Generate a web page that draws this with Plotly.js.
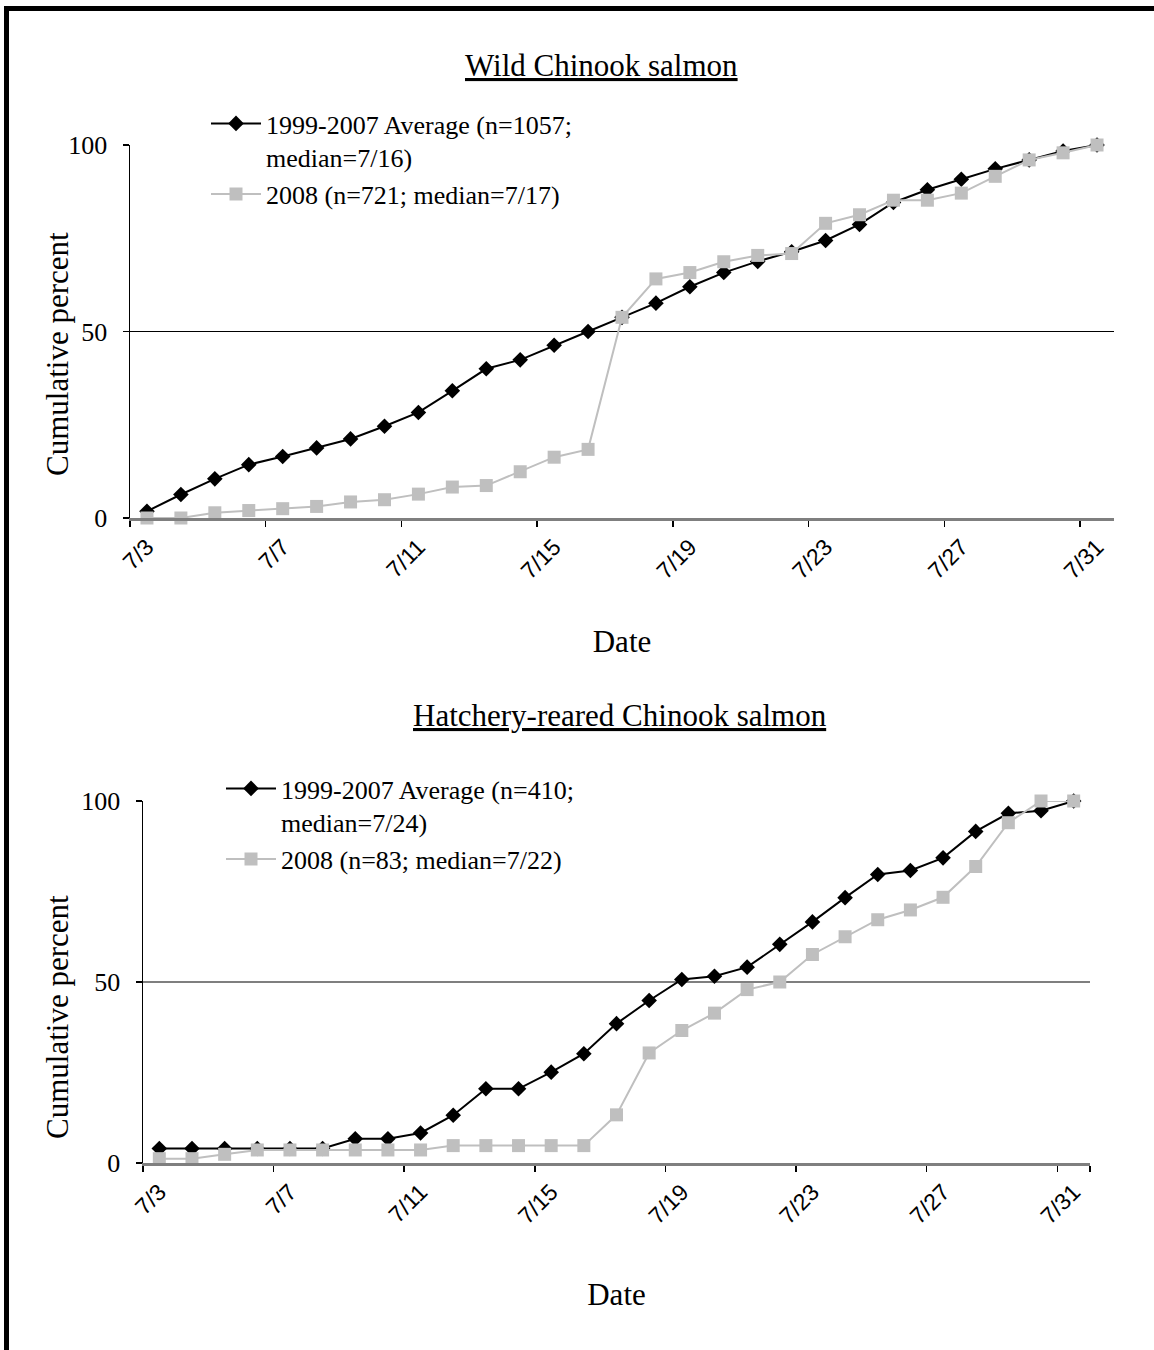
<!DOCTYPE html>
<html>
<head>
<meta charset="utf-8">
<script src="https://cdn.plot.ly/plotly-3.0.1.min.js"></script>
<style>
  html, body { margin: 0; padding: 0; background: #fff; }
  #wrap { position: relative; width: 1154px; height: 1350px; overflow: hidden; }
  #chart { position: absolute; left: 0; top: 0; width: 1154px; height: 1350px; }
  #frame { position: absolute; left: 4px; top: 6px; width: 1200px; height: 1400px;
           border-top: 5px solid #000; border-left: 5px solid #000; pointer-events: none; box-sizing: border-box; }
</style>
</head>
<body>
<div id="wrap">
  <div id="chart"></div>
  <div id="frame"></div>
</div>
<script>
// ---- data ----
const dates = ['7/3','7/4','7/5','7/6','7/7','7/8','7/9','7/10','7/11','7/12','7/13','7/14','7/15','7/16','7/17',
               '7/18','7/19','7/20','7/21','7/22','7/23','7/24','7/25','7/26','7/27','7/28','7/29','7/30','7/31'];
const tickLabels = ['7/3','7/7','7/11','7/15','7/19','7/23','7/27','7/31'];
const yTicks = [0, 50, 100];

const wildAvg  = [1.8, 6.3, 10.5, 14.3, 16.5, 18.8, 21.2, 24.6, 28.3, 34.1, 40.0, 42.4, 46.3, 50.0, 53.8,
                  57.6, 62.0, 65.8, 68.8, 71.4, 74.4, 78.7, 84.6, 88.0, 90.8, 93.6, 96.0, 98.4, 100];
const wild2008 = [0, 0, 1.4, 2.0, 2.5, 3.1, 4.3, 4.9, 6.4, 8.3, 8.7, 12.4, 16.3, 18.4, 53.8,
                  64.1, 65.8, 68.7, 70.4, 70.9, 79.0, 81.3, 85.2, 85.2, 87.1, 91.6, 96.0, 97.9, 100];
const hatchAvg  = [4.0, 4.0, 4.0, 4.0, 4.0, 4.0, 6.7, 6.7, 8.3, 13.2, 20.5, 20.5, 25.1, 30.2, 38.5,
                   44.9, 50.7, 51.6, 54.1, 60.4, 66.6, 73.3, 79.7, 80.8, 84.3, 91.6, 96.6, 97.3, 100];
const hatch2008 = [1.2, 1.2, 2.4, 3.6, 3.6, 3.6, 3.6, 3.6, 3.6, 4.8, 4.8, 4.8, 4.8, 4.8, 13.3,
                   30.4, 36.6, 41.4, 47.9, 50.0, 57.6, 62.5, 67.2, 69.9, 73.4, 81.9, 94.0, 100, 100];

const wildNames  = ['1999-2007 Average (n=1057;<br>median=7/16)', '2008 (n=721; median=7/17)'];
const hatchNames = ['1999-2007 Average (n=410;<br>median=7/24)', '2008 (n=83; median=7/22)'];
const plotTitles = ['Wild Chinook salmon', 'Hatchery-reared Chinook salmon'];
const xTitle = 'Date';
const yTitle = 'Cumulative percent';

// ---- styles ----
const SERIF = 'Liberation Serif, Times New Roman, serif';
const SANS = 'Liberation Sans, Arial, sans-serif';
const BLACK = '#000000';
const GRAY = '#BFBFBF';

function avgTrace(y, name, xa, ya, lg) {
  return { x: dates, y: y, name: name, xaxis: xa, yaxis: ya, legend: lg, type: 'scatter',
    mode: 'lines+markers', cliponaxis: false,
    line: { color: BLACK, width: 2 },
    marker: { symbol: 'diamond', size: 12, color: BLACK } };
}
function yrTrace(y, name, xa, ya, lg) {
  return { x: dates, y: y, name: name, xaxis: xa, yaxis: ya, legend: lg, type: 'scatter',
    mode: 'lines+markers', cliponaxis: false,
    line: { color: GRAY, width: 2 },
    marker: { symbol: 'square', size: 13, color: GRAY } };
}

const traces = [
  avgTrace(wildAvg, wildNames[0], 'x', 'y', 'legend'),
  yrTrace(wild2008, wildNames[1], 'x', 'y', 'legend'),
  avgTrace(hatchAvg, hatchNames[0], 'x2', 'y2', 'legend2'),
  yrTrace(hatch2008, hatchNames[1], 'x2', 'y2', 'legend2')
];

const W = 1154, H = 1350;
function px(x) { return x / W; }
function py(y) { return 1 - y / H; }

function xAxis(d0, d1, anchor, standoff) {
  return { domain: [px(d0), px(d1)], anchor: anchor, type: 'category', range: [-0.5, 28.5],
    tickmode: 'array', tickvals: tickLabels, ticktext: tickLabels, tickson: 'boundaries',
    ticks: 'outside', ticklen: 6, tickwidth: 1.5, tickcolor: BLACK, tickangle: -45,
    ticklabelstandoff: 4,
    tickfont: { family: SANS, size: 23, color: BLACK },
    showline: true, linecolor: '#7F7F7F', linewidth: 2.5, showgrid: false, zeroline: false,
    title: { text: xTitle, font: { family: SERIF, size: 31, color: BLACK }, standoff: standoff } };
}
function yAxis(d0, d1, anchor) {
  return { domain: [py(d1), py(d0)], anchor: anchor, range: [0, 100],
    tickmode: 'array', tickvals: yTicks, ticks: 'outside', ticklen: 6, tickwidth: 1.5, tickcolor: BLACK,
    ticklabelstandoff: 10,
    tickfont: { family: SERIF, size: 26, color: BLACK },
    showline: true, linecolor: BLACK, linewidth: 1.5, showgrid: false, zeroline: false };
}

const legendStyle = { font: { family: SERIF, size: 26, color: BLACK }, bgcolor: 'rgba(0,0,0,0)',
  xanchor: 'left', yanchor: 'top', valign: 'top', itemwidth: 50, tracegroupgap: 0 };

function ann(text, x, y, size, angle) {
  return { text: text, xref: 'paper', yref: 'paper', x: px(x), y: py(y), xanchor: 'center', yanchor: 'middle',
    textangle: angle || 0, showarrow: false, font: { family: SERIF, size: size, color: BLACK } };
}

const layout = {
  width: W, height: H,
  margin: { l: 0, r: 0, t: 0, b: 0 },
  paper_bgcolor: '#FFFFFF', plot_bgcolor: '#FFFFFF',
  showlegend: true,
  xaxis: xAxis(130, 1114, 'y', 48),
  yaxis: yAxis(145, 518, 'x'),
  xaxis2: xAxis(143, 1090, 'y2', 56),
  yaxis2: yAxis(801, 1163, 'x2'),
  legend: Object.assign({}, legendStyle, { x: px(206), y: py(100) }),
  legend2: Object.assign({}, legendStyle, { x: px(221), y: py(765) }),
  shapes: [
    { type: 'line', xref: 'x domain', yref: 'y', x0: 0, x1: 1, y0: 50, y1: 50,
      line: { color: BLACK, width: 1.2 }, layer: 'below' },
    { type: 'line', xref: 'x2 domain', yref: 'y2', x0: 0, x1: 1, y0: 50, y1: 50,
      line: { color: BLACK, width: 1.2 }, layer: 'below' }
  ],
  annotations: [
    ann('<u>' + plotTitles[0] + '</u>', 601, 66, 31),
    ann('<u>' + plotTitles[1] + '</u>', 620, 715, 31),
    ann(yTitle, 57, 354, 31, -90),
    ann(yTitle, 57, 1017, 31, -90)
  ]
};

Plotly.newPlot('chart', traces, layout, { staticPlot: true, displayModeBar: false });
</script>
</body>
</html>
